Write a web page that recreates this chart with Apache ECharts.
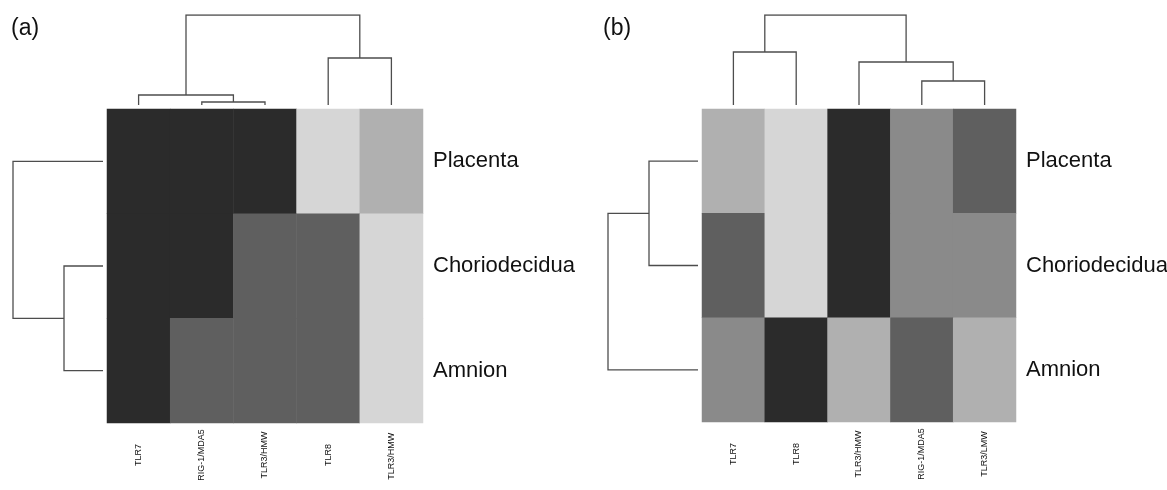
<!DOCTYPE html>
<html>
<head>
<meta charset="utf-8">
<script src="https://cdn.jsdelivr.net/npm/echarts@6/dist/echarts.min.js"></script>
<style>
html,body{margin:0;padding:0;background:#fff;}
#chart{width:1167px;height:490px;}
</style>
</head>
<body>
<div id="chart"></div>
<script>
// ---- data ----
const rowsA = ['Placenta', 'Choriodecidua', 'Amnion'];
const colsA = ['TLR7', 'RIG-1/MDA5', 'TLR3/HMW', 'TLR8', 'TLR3/HMW '];
// expression level (0 = lowest / lightest ... 4 = highest / darkest), rows x columns
const valuesA = [
  [4, 4, 4, 0, 1],
  [4, 4, 3, 3, 0],
  [4, 3, 3, 3, 0]
];
const rowsB = ['Placenta', 'Choriodecidua', 'Amnion'];
const colsB = ['TLR7', 'TLR8', 'TLR3/HMW', 'RIG-1/MDA5', 'TLR3/LMW'];
const valuesB = [
  [1, 0, 4, 2, 3],
  [3, 0, 4, 2, 2],
  [2, 4, 1, 3, 1]
];
// dendrogram merges (hclust style: negative = leaf -(i+1), positive = merge number), [a, b, height]
const dendroTopA  = [[-2, -3, 0.3], [-1, 1, 1.0], [-4, -5, 4.7], [2, 3, 9.0]];
const dendroLeftA = [[-2, -3, 3.9], [-1, 1, 9.0]];
const dendroTopB  = [[-1, -2, 5.3], [-4, -5, 2.4], [-3, 2, 4.3], [1, 3, 9.0]];
const dendroLeftB = [[-1, -2, 4.9], [1, -3, 9.0]];
const levelColors = ['#d6d6d6', '#b0b0b0', '#8a8a8a', '#5f5f5f', '#2b2b2b'];

// ---- helpers ----
function heatData(values) {
  const out = [];
  values.forEach((row, r) => row.forEach((v, c) => out.push([c, r, v])));
  return out;
}
function dendroLines(merges, vertical) {
  function pos(n) {
    if (n < 0) return { c: -n - 1 + 0.5, h: 0 };
    const m = merges[n - 1];
    return { c: (pos(m[0]).c + pos(m[1]).c) / 2, h: m[2] };
  }
  return merges.map(m => {
    const a = pos(m[0]), b = pos(m[1]), H = m[2];
    let pts = [[a.c, a.h], [a.c, H], [b.c, H], [b.c, b.h]];
    if (vertical) pts = pts.map(p => [p[1], p[0]]);
    return { coords: pts };
  });
}
function maxH(m) { return Math.max.apply(null, m.map(x => x[2])); }

const lineStyle = { color: '#4d4d4d', width: 1.3, opacity: 1 };
const font = 'Liberation Sans, Arial, sans-serif';
const colLabel = { rotate: 90, align: 'center', verticalAlign: 'middle', margin: 32, fontSize: 9, color: '#111', fontFamily: font, interval: 0 };
const rowLabel = { margin: 10, fontSize: 22, color: '#111', fontFamily: font };
const heatStyle = { borderWidth: 0 };
function g(o) { return Object.assign({ containLabel: false, outerBoundsMode: 'none' }, o); }

const chart = echarts.init(document.getElementById('chart'));
const option = {
  backgroundColor: '#fff',
  animation: false,
  title: [
    { text: '(a)', left: 6, top: 12, textStyle: { fontSize: 23, fontWeight: 'normal', color: '#111', fontFamily: font } },
    { text: '(b)', left: 598, top: 12, textStyle: { fontSize: 23, fontWeight: 'normal', color: '#111', fontFamily: font } }
  ],
  visualMap: {
    type: 'piecewise', show: false, seriesIndex: [0, 3], dimension: 2,
    pieces: levelColors.map((c, i) => ({ value: i, color: c }))
  },
  grid: [
    g({ left: 107, top: 109, width: 316, height: 314 }),   // 0 heatmap a
    g({ left: 107, top: 15, width: 316, height: 90 }),     // 1 top dendro a
    g({ left: 13, top: 109, width: 90, height: 314 }),     // 2 left dendro a
    g({ left: 702, top: 109, width: 314, height: 313 }),   // 3 heatmap b
    g({ left: 702, top: 15, width: 314, height: 90 }),     // 4 top dendro b
    g({ left: 608, top: 109, width: 90, height: 313 })     // 5 left dendro b
  ],
  xAxis: [
    { gridIndex: 0, type: 'category', data: colsA, axisLine: { show: false }, axisTick: { show: false }, axisLabel: colLabel },
    { gridIndex: 1, type: 'value', min: 0, max: colsA.length, show: false },
    { gridIndex: 2, type: 'value', min: 0, max: maxH(dendroLeftA), inverse: true, show: false },
    { gridIndex: 3, type: 'category', data: colsB, axisLine: { show: false }, axisTick: { show: false }, axisLabel: colLabel },
    { gridIndex: 4, type: 'value', min: 0, max: colsB.length, show: false },
    { gridIndex: 5, type: 'value', min: 0, max: maxH(dendroLeftB), inverse: true, show: false }
  ],
  yAxis: [
    { gridIndex: 0, type: 'category', data: rowsA, inverse: true, position: 'right', axisLine: { show: false }, axisTick: { show: false }, axisLabel: rowLabel },
    { gridIndex: 1, type: 'value', min: 0, max: maxH(dendroTopA), show: false },
    { gridIndex: 2, type: 'value', min: 0, max: rowsA.length, inverse: true, show: false },
    { gridIndex: 3, type: 'category', data: rowsB, inverse: true, position: 'right', axisLine: { show: false }, axisTick: { show: false }, axisLabel: rowLabel },
    { gridIndex: 4, type: 'value', min: 0, max: maxH(dendroTopB), show: false },
    { gridIndex: 5, type: 'value', min: 0, max: rowsB.length, inverse: true, show: false }
  ],
  series: [
    { type: 'heatmap', xAxisIndex: 0, yAxisIndex: 0, data: heatData(valuesA), itemStyle: heatStyle },
    { type: 'lines', coordinateSystem: 'cartesian2d', xAxisIndex: 1, yAxisIndex: 1, polyline: true, lineStyle: lineStyle, data: dendroLines(dendroTopA, false) },
    { type: 'lines', coordinateSystem: 'cartesian2d', xAxisIndex: 2, yAxisIndex: 2, polyline: true, lineStyle: lineStyle, data: dendroLines(dendroLeftA, true) },
    { type: 'heatmap', xAxisIndex: 3, yAxisIndex: 3, data: heatData(valuesB), itemStyle: heatStyle },
    { type: 'lines', coordinateSystem: 'cartesian2d', xAxisIndex: 4, yAxisIndex: 4, polyline: true, lineStyle: lineStyle, data: dendroLines(dendroTopB, false) },
    { type: 'lines', coordinateSystem: 'cartesian2d', xAxisIndex: 5, yAxisIndex: 5, polyline: true, lineStyle: lineStyle, data: dendroLines(dendroLeftB, true) }
  ]
};
chart.setOption(option);
</script>
</body>
</html>
